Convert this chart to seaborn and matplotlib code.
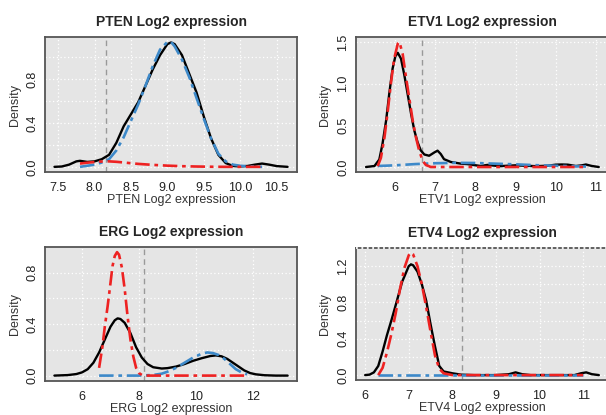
import matplotlib
matplotlib.use("Agg")
import matplotlib.pyplot as plt
import seaborn as sns
import pandas as pd

sns.set_style("white")
plt.rcParams["font.family"] = ["Liberation Sans", "DejaVu Sans"]

# ---------------- data ----------------
pten_black_x = [7.45, 7.55, 7.65, 7.75, 7.8, 7.9, 8.0, 8.1, 8.2, 8.3, 8.4, 8.5, 8.6, 8.7, 8.8, 8.9,
                9.0, 9.05, 9.1, 9.2, 9.3, 9.4, 9.5, 9.6, 9.7, 9.8, 9.9, 10.0, 10.1, 10.2, 10.3, 10.4, 10.5, 10.65]
pten_black_y = [0.0, 0.003, 0.02, 0.05, 0.055, 0.045, 0.05, 0.07, 0.11, 0.22, 0.37, 0.48, 0.59, 0.74, 0.89, 1.02,
                1.12, 1.135, 1.12, 1.02, 0.85, 0.68, 0.46, 0.26, 0.11, 0.035, 0.008, 0.004, 0.008, 0.02, 0.03, 0.02, 0.007, 0.0]
pten_blue_x = [7.8, 7.9, 8.0, 8.1, 8.2, 8.3, 8.4, 8.5, 8.6, 8.7, 8.8, 8.9, 9.0, 9.05, 9.1, 9.2, 9.3, 9.4,
               9.5, 9.6, 9.7, 9.8, 9.9, 10.0, 10.1, 10.3]
pten_blue_y = [0.0, 0.01, 0.02, 0.04, 0.07, 0.15, 0.27, 0.42, 0.57, 0.74, 0.92, 1.07, 1.14, 1.14, 1.10, 0.98, 0.82, 0.63,
               0.44, 0.26, 0.12, 0.05, 0.02, 0.01, 0.005, 0.0]
pten_red_x = [7.8, 7.9, 8.0, 8.1, 8.2, 8.3, 8.4, 8.5, 8.6, 8.8, 9.0, 9.2, 9.4, 9.6, 9.8, 10.3]
pten_red_y = [0.03, 0.038, 0.044, 0.049, 0.05, 0.046, 0.04, 0.033, 0.027, 0.018, 0.011, 0.006, 0.003, 0.001, 0.0, 0.0]

etv1_black_x = [5.28, 5.49, 5.61, 5.69, 5.78, 5.86, 5.94, 6.01, 6.07, 6.15, 6.23, 6.31, 6.40, 6.48, 6.56, 6.64,
                6.73, 6.85, 6.98, 7.06, 7.14, 7.22, 7.39, 7.64, 7.8, 8.13, 8.3, 8.6, 9.0, 9.5, 9.8, 10.0, 10.15,
                10.3, 10.5, 10.65, 10.75, 10.9, 11.07]
etv1_black_y = [0.0, 0.012, 0.09, 0.28, 0.56, 0.89, 1.18, 1.33, 1.37, 1.30, 1.11, 0.89, 0.64, 0.44, 0.30, 0.20,
                0.15, 0.135, 0.175, 0.196, 0.155, 0.094, 0.06, 0.04, 0.035, 0.012, 0.025, 0.01, 0.02, 0.01, 0.015, 0.028, 0.03,
                0.028, 0.012, 0.02, 0.03, 0.012, 0.0]
etv1_red_x = [5.57, 5.65, 5.74, 5.82, 5.9, 5.98, 6.07, 6.11, 6.19, 6.27, 6.36, 6.44, 6.52, 6.6, 6.69, 6.77, 6.89,
              7.5, 8.5, 9.5, 10.8]
etv1_red_y = [0.01, 0.11, 0.36, 0.67, 1.01, 1.30, 1.48, 1.50, 1.36, 1.09, 0.81, 0.56, 0.36, 0.20, 0.073, 0.024, 0.0,
              0.0, 0.0, 0.0, 0.0]
etv1_blue_x = [5.57, 6.0, 6.5, 7.0, 7.5, 8.0, 8.5, 9.0, 9.5, 10.0, 10.5, 10.8]
etv1_blue_y = [0.012, 0.02, 0.035, 0.045, 0.05, 0.048, 0.04, 0.032, 0.022, 0.015, 0.008, 0.005]

erg_black_x = [5.03, 5.5, 5.8, 6.0, 6.2, 6.4, 6.6, 6.8, 7.0, 7.15, 7.25, 7.35, 7.5, 7.7, 7.9, 8.1, 8.3, 8.5,
               8.8, 9.0, 9.3, 9.6, 9.9, 10.2, 10.5, 10.7, 10.9, 11.1, 11.3, 11.5, 11.7, 11.9, 12.1, 12.4, 12.8, 13.22]
erg_black_y = [0.0, 0.004, 0.012, 0.025, 0.05, 0.1, 0.18, 0.28, 0.38, 0.43, 0.445, 0.44, 0.41, 0.33, 0.22, 0.14, 0.09, 0.065,
               0.055, 0.058, 0.07, 0.09, 0.115, 0.135, 0.152, 0.157, 0.15, 0.13, 0.10, 0.07, 0.04, 0.02, 0.01, 0.003, 0.0, 0.0]
erg_red_x = [6.6, 6.72, 6.8, 6.9, 7.0, 7.07, 7.15, 7.23, 7.3, 7.4, 7.5, 7.6, 7.7, 7.8, 7.9, 8.0, 8.1, 8.3, 11.75]
erg_red_y = [0.06, 0.23, 0.38, 0.54, 0.72, 0.85, 0.93, 0.96, 0.94, 0.84, 0.67, 0.46, 0.28, 0.15, 0.06, 0.02, 0.005, 0.0, 0.0]
erg_blue_x = [6.6, 8.0, 8.5, 8.8, 9.0, 9.3, 9.6, 9.9, 10.2, 10.4, 10.6, 10.8, 11.0, 11.2, 11.4, 11.6, 11.8]
erg_blue_y = [0.0, 0.0, 0.005, 0.015, 0.03, 0.06, 0.10, 0.14, 0.17, 0.18, 0.175, 0.16, 0.13, 0.09, 0.05, 0.025, 0.01]

etv4_black_x = [6.0, 6.1, 6.2, 6.3, 6.4, 6.5, 6.6, 6.7, 6.85, 7.0, 7.05, 7.1, 7.2, 7.3, 7.4, 7.5, 7.6, 7.7, 7.8,
                7.9, 8.0, 8.2, 8.5, 9.0, 9.3, 9.45, 9.6, 9.8, 10.8, 10.95, 11.07, 11.2, 11.36]
etv4_black_y = [0.0, 0.005, 0.03, 0.1, 0.26, 0.44, 0.6, 0.77, 1.03, 1.2, 1.22, 1.21, 1.14, 1.0, 0.82, 0.56, 0.32, 0.1, 0.04,
                0.03, 0.02, 0.005, 0.0, 0.0, 0.01, 0.03, 0.01, 0.0, 0.0, 0.02, 0.03, 0.01, 0.0]
etv4_red_x = [6.3, 6.4, 6.5, 6.6, 6.7, 6.8, 6.9, 7.0, 7.05, 7.1, 7.2, 7.3, 7.4, 7.5, 7.6, 7.7, 7.8, 8.0, 11.0]
etv4_red_y = [0.0, 0.08, 0.25, 0.45, 0.68, 0.95, 1.18, 1.32, 1.35, 1.33, 1.2, 1.0, 0.75, 0.48, 0.22, 0.07, 0.02, 0.0, 0.0]
etv4_blue_x = [6.3, 8.0, 9.5, 11.0]
etv4_blue_y = [0.0, 0.0, 0.0, 0.0]

titles = ["PTEN Log2 expression", "ETV1 Log2 expression", "ERG Log2 expression", "ETV4 Log2 expression"]
cutoffs = [8.16, 6.68, 8.18, 8.21]

# ---------------- style ----------------
BLACK = "#000000"
RED = "#EE2222"
BLUE = "#3D89C9"
BOX = "#555555"
PANEL = "#E5E5E5"
W, H = 606, 415

fig = plt.figure(figsize=(W / 100, H / 100), dpi=100)


def axes_px(x0, y0, x1, y1):
    return fig.add_axes([x0 / W, 1 - y1 / H, (x1 - x0) / W, (y1 - y0) / H])


def panel(ax, title, curves, cutoff, xlim, ylim, xticks, xlabels, yticks, ylabels, top_grid=False):
    ax.set_facecolor(PANEL)
    for xs, ys, col, style in curves:
        df = pd.DataFrame({"x": xs, "y": ys})
        if style == "solid":
            sns.lineplot(data=df, x="x", y="y", ax=ax, color=col, lw=1.7, sort=False,
                         estimator=None, zorder=3)
        else:
            sns.lineplot(data=df, x="x", y="y", ax=ax, color=col, lw=1.9, sort=False,
                         estimator=None, zorder=4, dashes=False,
                         linestyle=(0, (5.5, 1.8, 1.4, 1.8)))
    ax.axvline(cutoff, color="#999999", ls=(0, (4, 3)), lw=1.0, zorder=2)
    ax.set_xlim(*xlim)
    ax.set_ylim(*ylim)
    ax.set_xticks(xticks)
    ax.set_xticklabels(xlabels)
    ax.set_yticks(yticks)
    ax.set_yticklabels(ylabels, rotation=90, va="center")
    ax.grid(True, color="white", ls=(0, (1, 2)), lw=0.9)
    ax.set_axisbelow(True)
    for s in ax.spines.values():
        s.set_color(BOX)
        s.set_linewidth(1.3)
    if top_grid:
        ax.axhline(1.4, color="white", ls=(0, (1, 2)), lw=1.3, zorder=5, clip_on=False)
    ax.tick_params(axis="both", length=4, width=1.0, color=BOX, labelsize=9,
                   labelcolor="#222222")
    ax.tick_params(axis="x", pad=3)
    ax.tick_params(axis="y", pad=1)
    ax.set_xlabel(title, fontsize=9, labelpad=0.5, color="#333333")
    ax.set_ylabel("Density", fontsize=9, labelpad=4, color="#333333")
    ax.set_title(title, fontsize=10, fontweight="bold", pad=8)


ax1 = axes_px(45, 37, 297, 172)
panel(ax1, titles[0],
      [(pten_black_x, pten_black_y, BLACK, "solid"),
       (pten_blue_x, pten_blue_y, BLUE, "dd"),
       (pten_red_x, pten_red_y, RED, "dd")],
      cutoffs[0], (7.32, 10.78), (-0.047, 1.185),
      [7.5, 8.0, 8.5, 9.0, 9.5, 10.0, 10.5], ["7.5", "8.0", "8.5", "9.0", "9.5", "10.0", "10.5"],
      [0.0, 0.2, 0.4, 0.6, 0.8, 1.0], ["0.0", "", "0.4", "", "0.8", ""])

ax2 = axes_px(356, 37, 608, 172)
panel(ax2, titles[1],
      [(etv1_black_x, etv1_black_y, BLACK, "solid"),
       (etv1_blue_x, etv1_blue_y, BLUE, "dd"),
       (etv1_red_x, etv1_red_y, RED, "dd")],
      cutoffs[1], (5.03, 11.3), (-0.06, 1.56),
      [6, 7, 8, 9, 10, 11], ["6", "7", "8", "9", "10", "11"],
      [0.0, 0.5, 1.0, 1.5], ["0.0", "0.5", "1.0", "1.5"])

ax3 = axes_px(45, 247, 297, 381)
panel(ax3, titles[2],
      [(erg_black_x, erg_black_y, BLACK, "solid"),
       (erg_blue_x, erg_blue_y, BLUE, "dd"),
       (erg_red_x, erg_red_y, RED, "dd")],
      cutoffs[2], (4.70, 13.55), (-0.042, 1.0),
      [6, 8, 10, 12], ["6", "8", "10", "12"],
      [0.0, 0.2, 0.4, 0.6, 0.8], ["0.0", "", "0.4", "", "0.8"])

ax4 = axes_px(356, 248, 608, 380)
panel(ax4, titles[3],
      [(etv4_black_x, etv4_black_y, BLACK, "solid"),
       (etv4_blue_x, etv4_blue_y, BLUE, "dd"),
       (etv4_red_x, etv4_red_y, RED, "dd")],
      cutoffs[3], (5.79, 11.57), (-0.054, 1.40),
      [6, 7, 8, 9, 10, 11], ["6", "7", "8", "9", "10", "11"],
      [0.0, 0.2, 0.4, 0.6, 0.8, 1.0, 1.2, 1.4], ["0.0", "", "0.4", "", "0.8", "", "1.2", ""],
      top_grid=True)

fig.savefig("out.png", dpi=100, facecolor="white")
